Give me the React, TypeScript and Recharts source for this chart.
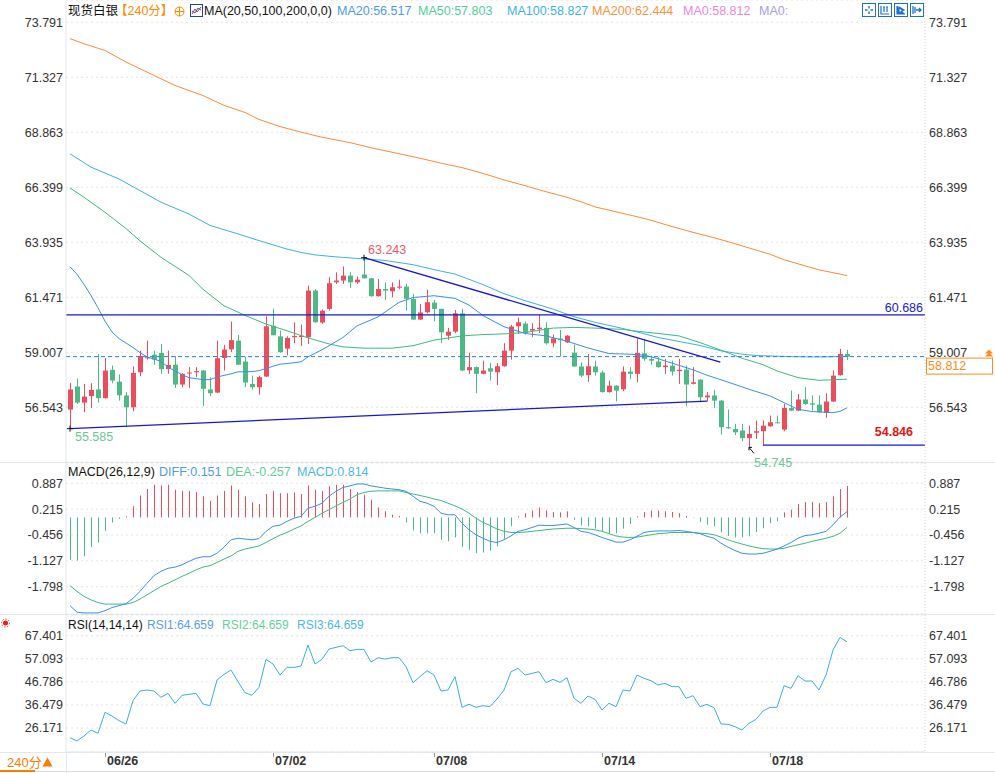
import React from 'react';
import { ComposedChart, Bar, Line, XAxis, YAxis, CartesianGrid, ReferenceLine, ReferenceDot } from 'recharts';

// ---------------- data ----------------
const OPEN = [
  56.44, 57.47, 56.75, 57.04, 57.34, 56.95, 58.22, 57.69, 57.07, 56.54,
  58.11, 58.74, 58.90, 58.98, 58.25, 58.45, 57.56, 58.07, 58.11, 58.19,
  57.34, 57.20, 58.75, 59.14, 59.53, 58.59, 57.59, 57.44, 57.92, 60.19,
  59.72, 59.17, 59.68, 59.69, 59.68, 61.77, 60.34, 60.95, 62.14, 62.22,
  62.44, 62.14, 62.49, 62.32, 61.52, 61.84, 61.74, 61.90, 61.95, 61.40,
  60.47, 60.80, 61.23, 60.95, 59.75, 59.93, 60.75, 58.20, 58.34, 58.04,
  58.29, 58.11, 58.38, 59.08, 60.17, 60.29, 59.98, 60.04, 60.10, 59.41,
  59.62, 59.45, 58.99, 58.37, 57.98, 58.37, 58.10, 57.22, 57.51, 57.35,
  58.14, 58.04, 58.96, 58.71, 58.59, 58.34, 58.41, 58.16, 58.23, 57.59,
  57.78, 56.99, 57.07, 56.84, 55.65, 55.57, 55.50, 55.16, 55.40, 55.47,
  55.69, 55.87, 55.54, 56.51, 56.39, 56.89, 56.72, 56.66, 56.29, 56.80,
  57.98, 58.93,
];
const HIGH = [
  57.63, 57.83, 57.59, 57.62, 58.93, 58.75, 58.41, 58.01, 57.22, 58.37,
  59.08, 59.53, 59.08, 59.38, 59.08, 58.84, 58.07, 58.34, 58.34, 58.22,
  57.89, 59.53, 59.34, 60.38, 59.78, 58.80, 57.96, 57.96, 60.61, 60.96,
  59.98, 59.72, 60.34, 60.25, 61.99, 61.84, 60.92, 62.37, 62.59, 62.85,
  62.59, 62.40, 63.243, 62.33, 62.29, 62.14, 62.14, 62.26, 62.07, 61.62,
  61.17, 61.81, 61.35, 60.96, 60.10, 60.90, 60.96, 58.99, 58.37, 58.63,
  58.53, 58.53, 59.41, 60.23, 60.56, 60.38, 60.31, 60.69, 60.35, 59.80,
  60.01, 59.78, 59.35, 58.56, 58.93, 58.63, 58.19, 57.74, 57.54, 58.37,
  58.34, 59.61, 59.61, 58.86, 58.78, 58.71, 58.63, 58.71, 58.41, 58.34,
  57.81, 57.22, 57.32, 56.87, 56.44, 55.80, 55.80, 55.72, 55.95, 55.95,
  56.17, 56.17, 56.69, 57.29, 57.14, 57.44, 57.07, 57.07, 57.17, 58.19,
  59.16, 59.11,
];
const LOW = [
  55.585, 56.69, 56.32, 56.50, 56.75, 56.93, 57.62, 56.84, 55.65, 56.36,
  57.93, 58.68, 58.45, 58.04, 58.04, 57.41, 57.44, 57.41, 57.89, 56.59,
  57.04, 57.18, 58.19, 59.02, 58.43, 57.44, 57.34, 57.11, 57.90, 59.76,
  58.99, 58.87, 59.41, 59.29, 59.38, 60.33, 60.28, 60.87, 62.07, 62.07,
  61.89, 62.07, 62.31, 61.50, 61.50, 61.35, 61.47, 61.83, 60.87, 60.45,
  60.45, 60.75, 60.40, 59.42, 59.56, 59.86, 58.16, 58.04, 57.17, 58.02,
  57.74, 57.53, 58.36, 58.68, 59.83, 59.80, 59.68, 59.87, 59.35, 59.23,
  58.81, 59.42, 58.35, 57.89, 57.68, 57.96, 57.20, 57.20, 56.81, 57.26,
  57.81, 57.66, 58.63, 58.45, 58.31, 58.04, 57.96, 57.59, 56.59, 57.57,
  56.77, 56.80, 56.50, 55.32, 55.57, 55.30, 55.02, 54.745, 55.13, 54.846,
  55.67, 55.82, 55.47, 56.37, 56.37, 56.65, 56.39, 56.30, 56.07, 56.77,
  57.96, 58.66,
];
const CLOSE = [
  57.34, 56.75, 57.02, 57.32, 56.95, 58.19, 57.74, 57.08, 56.54, 58.08,
  58.84, 58.78, 58.68, 58.25, 58.44, 57.56, 58.04, 58.10, 58.16, 57.37,
  57.17, 58.74, 59.13, 59.55, 58.45, 57.65, 57.44, 57.89, 60.17, 59.77,
  59.01, 59.65, 59.74, 59.75, 61.77, 60.35, 60.87, 62.10, 62.22, 62.44,
  62.14, 62.26, 62.32, 61.52, 61.84, 61.77, 61.92, 61.95, 61.40, 60.47,
  60.79, 61.25, 60.95, 59.90, 59.93, 60.75, 58.19, 58.34, 58.04, 58.19,
  58.14, 58.38, 59.08, 60.16, 60.35, 59.87, 60.05, 60.11, 59.41, 59.63,
  59.56, 59.75, 58.37, 57.96, 58.38, 58.11, 57.22, 57.51, 57.29, 58.14,
  58.04, 58.98, 58.71, 58.63, 58.34, 58.41, 58.14, 58.22, 57.56, 57.66,
  56.99, 57.07, 56.84, 55.65, 55.60, 55.42, 55.16, 55.35, 55.47, 55.72,
  55.87, 55.84, 56.51, 56.39, 56.89, 56.69, 56.66, 56.32, 56.80, 57.96,
  58.93, 58.81,
];

// moving averages, read at candle indices: [index, value]
const MA20_PTS: [number, number][] = [
  [0, 62.84], [1, 62.5], [2, 62.05], [3, 61.55], [4, 61.0], [5, 60.4], [6, 59.92], [7, 59.62], [9, 59.22],
  [10, 58.99], [11, 58.8], [13, 58.6], [14, 58.34], [16, 58.0], [17, 57.87], [19, 57.78], [20, 57.78],
  [21, 57.9], [23, 58.04], [24, 58.13], [26, 58.14], [27, 58.18], [29, 58.38], [30, 58.47], [31, 58.5],
  [33, 58.58], [34, 58.8], [36, 59.12], [37, 59.3], [39, 59.67], [41, 60.19], [44, 60.59], [47, 61.24],
  [49, 61.46], [52, 61.54], [55, 61.42], [57, 61.12], [59, 60.65], [62, 60.15], [65, 59.85], [68, 59.74],
  [71, 59.5], [74, 59.2], [77, 58.95], [80, 58.92], [82, 58.88], [84, 58.72], [87, 58.42], [89, 58.22],
  [91, 57.98], [94, 57.67], [97, 57.35], [100, 57.05], [102, 56.75], [104, 56.45], [106, 56.35],
  [109, 56.3], [110, 56.36], [111, 56.517],
];
const MA50_PTS: [number, number][] = [
  [0, 66.37], [2, 65.95], [5, 65.28], [8, 64.55], [10, 64.0], [13, 63.26], [17, 62.45], [19, 61.83],
  [22, 61.09], [25, 60.66], [28, 60.27], [31, 59.97], [34, 59.65], [37, 59.38], [39, 59.25], [42, 59.19],
  [46, 59.19], [49, 59.3], [52, 59.55], [56, 59.74], [59, 59.8], [62, 59.83], [65, 59.89], [69, 60.09],
  [72, 60.12], [75, 60.09], [79, 60.03], [81, 59.95], [84, 59.85], [87, 59.74], [90, 59.44], [93, 59.1],
  [96, 58.74], [99, 58.45], [101, 58.17], [104, 57.87], [107, 57.75], [111, 57.803],
];
const MA100_PTS: [number, number][] = [
  [0, 67.9], [3, 67.3], [7, 66.77], [10, 66.25], [13, 65.73], [17, 65.2], [20, 64.69], [24, 64.31],
  [27, 64.01], [31, 63.63], [33, 63.48], [35, 63.37], [38, 63.28], [42, 63.19], [45, 63.12], [49, 62.93],
  [52, 62.71], [55, 62.51], [59, 62.04], [62, 61.63], [65, 61.32], [69, 60.94], [72, 60.6], [75, 60.35],
  [79, 60.07], [81, 59.92], [84, 59.67], [87, 59.49], [90, 59.31], [93, 59.07], [96, 58.92], [98, 58.86],
  [101, 58.83], [105, 58.8], [108, 58.8], [111, 58.827],
];
const MA200_PTS: [number, number][] = [
  [0, 73.06], [2, 72.83], [5, 72.53], [8, 72.01], [12, 71.41], [15, 70.96], [19, 70.51], [22, 70.07],
  [25, 69.75], [27, 69.44], [30, 69.12], [33, 68.87], [36, 68.64], [40, 68.4], [43, 68.17], [46, 67.97],
  [50, 67.7], [53, 67.48], [56, 67.28], [59, 67.02], [62, 66.73], [65, 66.47], [68, 66.2], [71, 65.95],
  [73, 65.75], [75, 65.52], [78, 65.3], [81, 65.08], [83, 64.92], [86, 64.64], [89, 64.38], [92, 64.14],
  [95, 63.87], [97, 63.68], [100, 63.4], [102, 63.15], [104, 62.97], [107, 62.7], [111, 62.444],
];

const DIFF = [
  -2.29, -2.46, -2.48, -2.48, -2.48, -2.42, -2.34, -2.29, -2.24, -2.10,
  -1.92, -1.71, -1.51, -1.40, -1.32, -1.29, -1.23, -1.14, -1.06, -1.02,
  -1.02, -0.93, -0.77, -0.58, -0.54, -0.56, -0.58, -0.55, -0.36, -0.23,
  -0.20, -0.10, -0.02, 0.03, 0.24, 0.29, 0.37, 0.55, 0.68, 0.78,
  0.82, 0.87, 0.87, 0.82, 0.79, 0.76, 0.74, 0.72, 0.68, 0.55,
  0.42, 0.37, 0.29, 0.11, 0.07, 0.07, -0.15, -0.32, -0.45, -0.54,
  -0.62, -0.65, -0.58, -0.48, -0.36, -0.32, -0.26, -0.20, -0.21, -0.21,
  -0.19, -0.17, -0.26, -0.36, -0.39, -0.45, -0.52, -0.58, -0.64, -0.64,
  -0.58, -0.49, -0.39, -0.36, -0.35, -0.35, -0.35, -0.34, -0.36, -0.39,
  -0.42, -0.49, -0.54, -0.67, -0.77, -0.86, -0.93, -0.95, -0.95, -0.93,
  -0.88, -0.82, -0.74, -0.65, -0.54, -0.47, -0.45, -0.41, -0.36, -0.19,
  0.01, 0.151,
];
const DEA = [
  -1.77, -1.92, -2.05, -2.14, -2.21, -2.25, -2.25, -2.25, -2.25, -2.21,
  -2.12, -2.01, -1.90, -1.79, -1.71, -1.62, -1.53, -1.45, -1.36, -1.29,
  -1.25, -1.17, -1.08, -1.00, -0.88, -0.82, -0.78, -0.74, -0.65, -0.55,
  -0.46, -0.39, -0.30, -0.22, -0.10, 0.00, 0.11, 0.20, 0.30, 0.39,
  0.48, 0.59, 0.65, 0.68, 0.69, 0.69, 0.69, 0.69, 0.65, 0.61,
  0.57, 0.53, 0.48, 0.44, 0.37, 0.30, 0.22, 0.11, -0.02, -0.13,
  -0.21, -0.30, -0.36, -0.39, -0.39, -0.38, -0.36, -0.34, -0.32, -0.30,
  -0.29, -0.28, -0.28, -0.29, -0.30, -0.32, -0.36, -0.42, -0.48, -0.51,
  -0.52, -0.51, -0.48, -0.45, -0.42, -0.41, -0.39, -0.39, -0.39, -0.39,
  -0.41, -0.42, -0.45, -0.51, -0.58, -0.64, -0.69, -0.74, -0.78, -0.81,
  -0.82, -0.82, -0.80, -0.75, -0.71, -0.67, -0.62, -0.58, -0.54, -0.49,
  -0.41, -0.257,
];
const MACD_HIST = [
  -1.10, -1.12, -1.01, -0.77, -0.65, -0.35, -0.13, -0.04, 0.03, 0.29,
  0.57, 0.74, 0.85, 0.83, 0.85, 0.72, 0.69, 0.69, 0.66, 0.55,
  0.43, 0.57, 0.69, 0.83, 0.72, 0.55, 0.39, 0.35, 0.61, 0.69,
  0.63, 0.63, 0.65, 0.61, 0.83, 0.72, 0.69, 0.81, 0.85, 0.85,
  0.74, 0.66, 0.59, 0.46, 0.26, 0.16, 0.07, 0.04, -0.13, -0.34,
  -0.41, -0.41, -0.41, -0.58, -0.62, -0.52, -0.77, -0.84, -0.93, -0.91,
  -0.86, -0.75, -0.55, -0.23, 0.03, 0.11, 0.18, 0.26, 0.18, 0.14,
  0.13, 0.16, -0.06, -0.21, -0.23, -0.29, -0.36, -0.42, -0.41, -0.29,
  -0.17, 0.03, 0.14, 0.18, 0.18, 0.16, 0.14, 0.11, 0.04, 0.01,
  -0.12, -0.19, -0.23, -0.39, -0.48, -0.52, -0.52, -0.49, -0.38, -0.28,
  -0.15, -0.10, 0.13, 0.20, 0.35, 0.40, 0.40, 0.37, 0.40, 0.55,
  0.74, 0.814,
];
const RSI = [
  21.85, 20.37, 22.60, 25.28, 23.79, 33.17, 31.53, 29.45, 27.96, 38.38,
  42.69, 43.14, 42.69, 39.86, 41.65, 37.19, 40.76, 41.20, 41.65, 36.89,
  36.14, 47.60, 50.13, 52.07, 46.86, 41.95, 40.76, 44.33, 56.83, 54.75,
  49.84, 53.26, 53.26, 53.85, 63.23, 54.75, 56.83, 61.45, 62.19, 62.93,
  60.70, 61.30, 61.30, 55.64, 57.58, 56.98, 57.58, 57.58, 53.56, 46.41,
  49.09, 51.77, 49.84, 42.69, 43.14, 49.09, 35.40, 36.74, 35.40, 36.14,
  35.70, 39.12, 43.14, 51.33, 52.81, 49.84, 50.58, 51.33, 46.41, 47.90,
  46.56, 48.65, 39.42, 37.19, 40.46, 38.97, 34.21, 37.19, 35.70, 43.14,
  42.69, 49.84, 48.35, 47.31, 45.37, 46.11, 44.63, 44.63, 39.42, 40.61,
  35.70, 36.74, 35.25, 27.96, 27.81, 26.77, 25.28, 28.25, 30.04, 33.76,
  35.40, 35.40, 45.07, 43.88, 49.54, 47.16, 47.16, 43.14, 49.84, 61.00,
  66.66, 64.66,
];

const DATE_TICKS = [5, 29, 52, 76, 100];
const DATE_LABELS = ['06/26', '07/02', '07/08', '07/14', '07/18'];
const PRICE_TICKS = [73.791, 71.327, 68.863, 66.399, 63.935, 61.471, 59.007, 56.543];
const MACD_TICKS = [0.887, 0.215, -0.456, -1.127, -1.798];
const RSI_TICKS = [67.401, 57.093, 46.786, 36.479, 26.171];

const HLINE = 60.686;
const LAST = 58.812;
const SUPPORT = 54.846;
const TOP_HIGH: [number, number] = [42, 63.243];
const LOW_A: [number, number] = [0, 55.585];
const LOW_B: [number, number] = [97, 54.745];
const TREND_UP_END: [number, number] = [91, 56.82];
const TREND_DN_END: [number, number] = [92.9, 58.57];

const X_DOMAIN: [number, number] = [-0.571, 122.14];
const PRICE_DOMAIN: [number, number] = [54.09, 74.79];
const MACD_DOMAIN: [number, number] = [-2.507, 1.414];
const RSI_DOMAIN: [number, number] = [15.45, 76.65];

// ---------------- style ----------------
const FONT = '"Liberation Sans", Arial, "Noto Sans CJK SC", sans-serif';
const RED = '#ec4d5c';
const GREEN = '#4fb986';
const C_MA20 = '#3a8ef0';
const C_MA50 = '#3dbb7e';
const C_MA100 = '#3ab2ea';
const C_MA200 = '#ff8a38';
const C_TREND = '#1616d8';
const AXIS_TXT = '#333';
const GRID = '#e4e4e4';
const SEP = '#e1e7ee';

const candles = OPEN.map((o, i) => ({
  i,
  open: o,
  high: HIGH[i],
  low: LOW[i],
  close: CLOSE[i],
  range: [LOW[i], HIGH[i]],
}));
const macdData = DIFF.map((d, i) => ({ i, diff: d, dea: DEA[i], hist: MACD_HIST[i] }));
const rsiData = RSI.map((r, i) => ({ i, rsi: r }));
const toPts = (arr: [number, number][]) => arr.map(([i, v]) => ({ i, v }));

function CandleShape(props: any) {
  const { x, y, width, height, payload } = props;
  if (!payload || !isFinite(x) || !isFinite(y)) return null;
  const { open, close, high, low } = payload;
  const color = close >= open ? RED : GREEN;
  const cx = Math.round(x + width / 2) + 0.5;
  const span = high - low;
  const py = (v: number) => (span > 0 ? y + ((high - v) / span) * height : y);
  const top = py(Math.max(open, close));
  const bot = py(Math.min(open, close));
  return (
    <g>
      <line x1={cx} x2={cx} y1={y} y2={y + height} stroke={color} strokeWidth={1} />
      <rect x={cx - 2.5} y={top} width={5} height={Math.max(1, bot - top)} fill={color} />
    </g>
  );
}

function HistShape(props: any) {
  const { x, y, width, height, payload } = props;
  if (!payload || !isFinite(x) || !isFinite(y)) return null;
  const cx = Math.round(x + width / 2) + 0.5;
  const color = payload.hist >= 0 ? RED : GREEN;
  return <line x1={cx} x2={cx} y1={y} y2={y + height} stroke={color} strokeWidth={1} />;
}

const tickStyle = { fill: AXIS_TXT, fontSize: 12.5, fontFamily: FONT };
const fmt3 = (v: number) => v.toFixed(3);

function DateTick(props: any) {
  const { x, y, payload } = props;
  const idx = DATE_TICKS.indexOf(payload.value);
  const lx = Math.round(x) + 0.5;
  return (
    <g>
      <line x1={lx} x2={lx} y1={y + 1} y2={y + 5} stroke="#999" />
      <text x={x + 2} y={y + 13} fill={AXIS_TXT} fontSize={12.5} fontWeight="bold" fontFamily={FONT}>
        {idx >= 0 ? DATE_LABELS[idx] : ''}
      </text>
    </g>
  );
}

function Txt({ x, y, color = '#222', size = 12.5, weight, children }: any) {
  return (
    <span
      style={{
        position: 'absolute', left: x, top: y - 8, fontSize: size, lineHeight: '16px', color,
        whiteSpace: 'nowrap', fontFamily: FONT, fontWeight: weight,
      }}
    >
      {children}
    </span>
  );
}

function IconBox({ x, children }: any) {
  return (
    <svg style={{ position: 'absolute', left: x, top: 3 }} width={14} height={14}>
      <rect x={0.5} y={0.5} width={13} height={13} fill="#fff" stroke="#1f6fd0" />
      {children}
    </svg>
  );
}

function MainPanel() {
  return (
    <ComposedChart width={995} height={472} data={candles} margin={{ top: 0, right: 0, bottom: 10, left: 0 }}>
      <CartesianGrid vertical={false} stroke={GRID} strokeDasharray="2 3" />
      <XAxis type="number" dataKey="i" domain={X_DOMAIN} hide allowDataOverflow />
      <YAxis
        domain={PRICE_DOMAIN} ticks={PRICE_TICKS} allowDataOverflow width={66} tickLine={false}
        tickSize={1} tickMargin={2} tick={tickStyle} tickFormatter={fmt3} axisLine={{ stroke: SEP }}
      />
      <YAxis
        yAxisId="r" orientation="right" domain={PRICE_DOMAIN} ticks={PRICE_TICKS} allowDataOverflow width={70}
        tickLine={false} tickSize={2} tickMargin={2} tick={{ ...tickStyle, textAnchor: 'start' }} tickFormatter={fmt3}
        axisLine={{ stroke: '#cfd5dc', strokeDasharray: '1 2' }}
      />
      <Line data={toPts(MA200_PTS)} dataKey="v" stroke={C_MA200} strokeWidth={1} dot={false} activeDot={false} isAnimationActive={false} />
      <Line data={toPts(MA100_PTS)} dataKey="v" stroke={C_MA100} strokeWidth={1} dot={false} activeDot={false} isAnimationActive={false} />
      <Line data={toPts(MA50_PTS)} dataKey="v" stroke={C_MA50} strokeWidth={1} dot={false} activeDot={false} isAnimationActive={false} />
      <Line data={toPts(MA20_PTS)} dataKey="v" stroke={C_MA20} strokeWidth={1} dot={false} activeDot={false} isAnimationActive={false} />
      <ReferenceLine y={HLINE} stroke={C_TREND} strokeWidth={1.3} />
      <ReferenceLine y={LAST} stroke="#2a7fe0" strokeDasharray="4 3" />
      <ReferenceLine segment={[{ x: LOW_A[0], y: LOW_A[1] }, { x: TREND_UP_END[0], y: TREND_UP_END[1] }]} stroke={C_TREND} strokeWidth={1.3} />
      <ReferenceLine segment={[{ x: TOP_HIGH[0], y: TOP_HIGH[1] }, { x: TREND_DN_END[0], y: TREND_DN_END[1] }]} stroke={C_TREND} strokeWidth={1.3} />
      <ReferenceLine segment={[{ x: 99, y: SUPPORT }, { x: X_DOMAIN[1], y: SUPPORT }]} stroke={C_TREND} strokeWidth={1.3} />
      <Bar dataKey="range" barSize={5} shape={CandleShape} isAnimationActive={false} />
      <ReferenceDot
        x={X_DOMAIN[1]} y={HLINE} r={0}
        shape={(p: any) => (
          <text x={p.cx - 2} y={p.cy - 7} dy="0.35em" textAnchor="end" fill="#2020d8" fontSize={12.5} fontFamily={FONT}>
            {HLINE.toFixed(3)}
          </text>
        )}
      />
      <ReferenceDot
        x={X_DOMAIN[1]} y={SUPPORT} r={0}
        shape={(p: any) => (
          <text x={p.cx - 12} y={p.cy - 14} dy="0.35em" textAnchor="end" fill="#ee1111" fontSize={12.5} fontWeight="bold" fontFamily={FONT}>
            {SUPPORT.toFixed(3)}
          </text>
        )}
      />
      <ReferenceDot
        x={TOP_HIGH[0]} y={TOP_HIGH[1]} r={0}
        shape={(p: any) => (
          <g>
            <path d={`M${p.cx - 3},${p.cy} H${p.cx + 3} M${p.cx},${p.cy - 3} V${p.cy + 3}`} stroke="#111" strokeWidth={1} />
            <text x={p.cx + 4} y={p.cy - 8} dy="0.35em" fill="#f05a69" fontSize={12.5} fontFamily={FONT}>
              {TOP_HIGH[1].toFixed(3)}
            </text>
          </g>
        )}
      />
      <ReferenceDot
        x={LOW_A[0]} y={LOW_A[1]} r={0}
        shape={(p: any) => (
          <g>
            <path d={`M${p.cx - 3},${p.cy} H${p.cx + 3} M${p.cx},${p.cy - 3} V${p.cy + 3}`} stroke="#111" strokeWidth={1} />
            <text x={p.cx + 5} y={p.cy + 8} dy="0.35em" fill="#6cc79a" fontSize={12.5} fontFamily={FONT}>
              {LOW_A[1].toFixed(3)}
            </text>
          </g>
        )}
      />
      <ReferenceDot
        x={LOW_B[0]} y={LOW_B[1]} r={0}
        shape={(p: any) => (
          <g>
            <path d={`M${p.cx},${p.cy} L${p.cx + 5},${p.cy + 6} M${p.cx},${p.cy} h3 M${p.cx},${p.cy} v3`} stroke="#111" strokeWidth={1} fill="none" />
            <text x={p.cx + 5} y={p.cy + 15} dy="0.35em" fill="#6cc79a" fontSize={12.5} fontFamily={FONT}>
              {LOW_B[1].toFixed(3)}
            </text>
          </g>
        )}
      />
      <ReferenceDot
        x={X_DOMAIN[1]} y={LAST} r={0}
        shape={(p: any) => (
          <g>
            <rect x={p.cx + 1.5} y={p.cy + 1.5} width={66} height={16} fill="#fff" stroke="#ff8a1e" />
            <text x={p.cx + 3} y={p.cy + 9.5} dy="0.35em" fill="#ff8a1e" fontSize={12.5} fontFamily={FONT}>
              {LAST.toFixed(3)}
            </text>
            <path d={`M${p.cx + 60},${p.cy - 3} l4,-4 l4,4 z M${p.cx + 60},${p.cy} l4,-4 l4,4 z`} fill="#ff8a1e" />
          </g>
        )}
      />
    </ComposedChart>
  );
}

function MacdPanel() {
  return (
    <ComposedChart width={995} height={151} data={macdData} margin={{ top: 0, right: 0, bottom: 0, left: 0 }}>
      <CartesianGrid vertical={false} stroke={GRID} strokeDasharray="2 3" />
      <XAxis type="number" dataKey="i" domain={X_DOMAIN} hide allowDataOverflow />
      <YAxis
        domain={MACD_DOMAIN} ticks={MACD_TICKS} allowDataOverflow width={66} tickLine={false}
        tickSize={1} tickMargin={2} tick={tickStyle} tickFormatter={fmt3} axisLine={{ stroke: SEP }}
      />
      <YAxis
        yAxisId="r" orientation="right" domain={MACD_DOMAIN} ticks={MACD_TICKS} allowDataOverflow width={70}
        tickLine={false} tickSize={2} tickMargin={2} tick={{ ...tickStyle, textAnchor: 'start' }} tickFormatter={fmt3}
        axisLine={{ stroke: '#cfd5dc', strokeDasharray: '1 2' }}
      />
      <Bar dataKey="hist" barSize={1} shape={HistShape} isAnimationActive={false} />
      <Line dataKey="dea" stroke={C_MA50} strokeWidth={1} dot={false} activeDot={false} isAnimationActive={false} />
      <Line dataKey="diff" stroke={C_MA20} strokeWidth={1} dot={false} activeDot={false} isAnimationActive={false} />
    </ComposedChart>
  );
}

function RsiPanel() {
  return (
    <ComposedChart width={995} height={158} data={rsiData} margin={{ top: 0, right: 0, bottom: 0, left: 0 }}>
      <CartesianGrid vertical={false} stroke={GRID} strokeDasharray="2 3" />
      <XAxis
        type="number" dataKey="i" domain={X_DOMAIN} allowDataOverflow ticks={DATE_TICKS} height={21}
        tickLine={false} tickSize={0} tickMargin={0} tick={DateTick} axisLine={{ stroke: SEP }} interval={0}
      />
      <YAxis
        domain={RSI_DOMAIN} ticks={RSI_TICKS} allowDataOverflow width={66} tickLine={false}
        tickSize={1} tickMargin={2} tick={tickStyle} tickFormatter={fmt3} axisLine={{ stroke: SEP }}
      />
      <YAxis
        yAxisId="r" orientation="right" domain={RSI_DOMAIN} ticks={RSI_TICKS} allowDataOverflow width={70}
        tickLine={false} tickSize={2} tickMargin={2} tick={{ ...tickStyle, textAnchor: 'start' }} tickFormatter={fmt3}
        axisLine={{ stroke: '#cfd5dc', strokeDasharray: '1 2' }}
      />
      <Line dataKey="rsi" stroke="#3aaee8" strokeWidth={1} dot={false} activeDot={false} isAnimationActive={false} />
    </ComposedChart>
  );
}

export default function App() {
  return (
    <div style={{ position: 'absolute', left: 0, top: 0, width: 995, height: 773, background: '#fff', overflow: 'hidden', fontFamily: FONT }}>
      {/* separators (under the charts) */}
      <div style={{ position: 'absolute', left: 0, top: 462, width: 995, height: 1, background: SEP }} />
      <div style={{ position: 'absolute', left: 0, top: 614, width: 995, height: 1, background: SEP }} />
      <div style={{ position: 'absolute', left: 0, top: 752, width: 995, height: 1, background: SEP }} />
      <div style={{ position: 'absolute', left: 66, top: 752, width: 1, height: 21, background: SEP }} />
      <div style={{ position: 'absolute', left: 0, top: 771, width: 995, height: 1, background: '#d8dde3' }} />

      <div style={{ position: 'absolute', left: 0, top: 615 }}><RsiPanel /></div>
      <div style={{ position: 'absolute', left: 0, top: 463 }}><MacdPanel /></div>
      <div style={{ position: 'absolute', left: 0, top: 0 }}><MainPanel /></div>

      {/* main header */}
      <Txt x={68} y={11} color="#111">现货白银</Txt>
      <Txt x={115} y={11} color="#ff8a00">【240分】</Txt>
      <svg style={{ position: 'absolute', left: 174, top: 6 }} width={11} height={11}>
        <circle cx={5.5} cy={5.5} r={4.5} fill="none" stroke="#ff8a00" />
        <path d="M1,5.5 H10 M5.5,1 V10" stroke="#ff8a00" />
      </svg>
      <svg style={{ position: 'absolute', left: 190, top: 4 }} width={13} height={13}>
        <rect x={0.5} y={0.5} width={12} height={12} fill="#fff" stroke="#2040b0" />
        <path d="M2,10 L5,5 L7,8 L11,3" stroke="#e03030" fill="none" />
        <path d="M2,7 L5,9 L8,4 L11,6" stroke="#2060e0" fill="none" />
      </svg>
      <Txt x={204} y={11} color="#111">MA(20,50,100,200,0,0)</Txt>
      <Txt x={337} y={11} color="#4a9cf0">MA20:56.517</Txt>
      <Txt x={418} y={11} color="#4fcf99">MA50:57.803</Txt>
      <Txt x={507} y={11} color="#3cb3ef">MA100:58.827</Txt>
      <Txt x={592} y={11} color="#ff9240">MA200:62.444</Txt>
      <Txt x={683} y={11} color="#ee85dc">MA0:58.812</Txt>
      <Txt x={759} y={11} color="#a79cf3">MA0:</Txt>

      <IconBox x={862}>
        <path d="M7,3 V5.5 M7,8.5 V11 M3,7 H5.5 M8.5,7 H11" stroke="#1f6fd0" strokeWidth={1.4} />
      </IconBox>
      <IconBox x={878}>
        <path d="M3,3 V11 H11 M6,4 V9 M9,4 V9 M5,4 H7 M8,4 H10" stroke="#1f6fd0" strokeWidth={1.2} fill="none" />
      </IconBox>
      <IconBox x={894}>
        <path d="M3,3 V11 H11 M5,4 L10,7 L5,10 Z" stroke="#1f6fd0" strokeWidth={1.2} fill="#1f6fd0" />
      </IconBox>
      <IconBox x={910}>
        <path d="M3,3 V11 M5,4 V10 M6,7 H11 M9,5 L11,7 L9,9" stroke="#1f6fd0" strokeWidth={1.3} fill="none" />
      </IconBox>

      {/* MACD header */}
      <Txt x={68} y={471.5} color="#111">MACD(26,12,9)</Txt>
      <Txt x={159} y={471.5} color="#4a9cf0">DIFF:0.151</Txt>
      <Txt x={226} y={471.5} color="#5ccf94">DEA:-0.257</Txt>
      <Txt x={297} y={471.5} color="#4cb7ec">MACD:0.814</Txt>

      {/* RSI header */}
      <svg style={{ position: 'absolute', left: 0, top: 617 }} width={13} height={13}>
        <circle cx={5.5} cy={6} r={2.5} fill="#e02020" />
        <circle cx={5.5} cy={6} r={4} fill="none" stroke="#e02020" strokeWidth={0.8} strokeDasharray="1.5 1.5" />
      </svg>
      <Txt x={68} y={625} color="#111" size={12}>RSI(14,14,14)</Txt>
      <Txt x={147} y={625} color="#5c9cf0" size={12}>RSI1:64.659</Txt>
      <Txt x={222} y={625} color="#5fd49a" size={12}>RSI2:64.659</Txt>
      <Txt x={297} y={625} color="#4cb7ec" size={12}>RSI3:64.659</Txt>

      {/* bottom-left period */}
      <Txt x={7} y={763} color="#ff7a00" size={13}>240分</Txt>
      <svg style={{ position: 'absolute', left: 42, top: 757 }} width={11} height={10}>
        <path d="M0.5,9.5 L5.5,0.5 L10.5,9.5 Z" fill="#ff7a00" />
      </svg>
      <div style={{ position: 'absolute', left: 0, top: 770, width: 35, height: 2, background: '#ff7a00' }} />
    </div>
  );
}
